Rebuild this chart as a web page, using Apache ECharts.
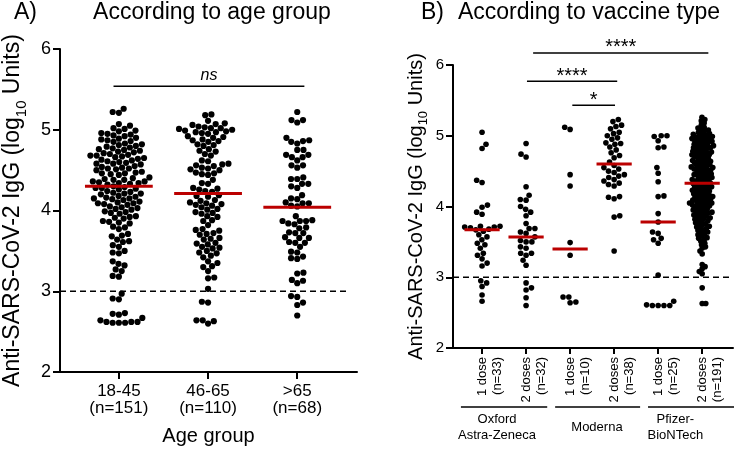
<!DOCTYPE html>
<html><head><meta charset="utf-8">
<script src="https://cdn.jsdelivr.net/npm/echarts@6/dist/echarts.min.js"></script>
<style>html,body{margin:0;padding:0;background:#fff}#c{width:734px;height:451px}</style>
</head><body><div id="c"></div>
<script>
// ---------------- DATA ----------------
const ageCategories = ['18-45', '46-65', '>65'];
const ageCounts = ['(n=151)', '(n=110)', '(n=68)'];
const age1845 = [2.61,2.61,2.61,2.62,2.62,2.62,2.64,2.67,2.71,2.72,2.73,2.90,2.91,2.97,
3.18,3.19,3.25,3.27,3.32,3.34,3.37,3.47,3.48,3.50,3.55,3.57,3.61,3.62,3.64,3.68,3.69,3.71,3.77,3.79,3.80,3.84,3.85,3.86,3.87,3.90,3.91,3.92,3.93,3.96,3.97,3.98,3.99,
4.01,4.02,4.03,4.04,4.05,4.07,4.08,4.09,4.09,4.10,4.11,4.13,4.14,4.15,4.15,4.16,4.17,4.18,4.20,4.21,4.21,4.22,4.23,4.24,4.26,4.27,4.28,4.28,4.29,4.30,
4.32,4.33,4.34,4.34,4.35,4.36,4.36,4.38,4.38,4.39,4.40,4.41,4.44,4.45,4.46,4.46,4.47,4.48,4.50,4.51,4.52,4.52,4.53,4.54,4.55,4.57,4.58,4.58,4.59,4.60,4.61,
4.62,4.63,4.64,4.65,4.66,4.67,4.68,4.68,4.69,4.70,4.71,4.72,4.73,4.74,4.75,4.76,4.77,4.78,4.79,4.80,4.81,4.82,4.83,4.85,4.86,4.87,4.88,4.89,4.90,
4.92,4.93,4.94,4.95,4.96,4.98,4.99,5.01,5.02,5.05,5.07,5.21,5.22,5.26];
const age4665 = [5.18,5.19,5.11,5.06,5.07,5.08,5.00,5.01,5.02,5.02,5.03,5.04,4.95,4.96,4.97,4.97,4.98,4.99,4.90,4.91,4.92,4.85,4.86,4.87,4.88,
4.80,4.81,4.82,4.73,4.74,4.76,4.68,4.70,4.61,4.62,4.55,4.56,4.57,4.58,4.50,4.51,4.52,4.53,4.44,4.45,4.46,4.47,4.38,4.33,4.34,4.26,4.27,4.28,4.23,4.24,
4.17,4.18,4.19,4.12,4.13,4.10,4.06,4.07,4.08,4.09,4.01,4.02,4.04,3.96,3.97,3.98,3.92,3.93,3.87,3.88,3.82,3.75,3.76,3.77,3.70,3.71,3.72,
3.64,3.65,3.66,3.58,3.59,3.60,3.53,3.54,3.55,3.47,3.48,3.50,3.44,3.42,3.35,3.37,3.30,3.31,3.25,3.16,3.17,3.03,2.86,2.87,2.60,2.63,2.64,2.64];
const ageOver65 = [2.70,2.83,2.86,2.93,2.94,3.10,3.13,3.14,3.22,3.23,3.40,3.41,3.43,3.48,3.49,3.55,3.60,3.60,3.61,3.66,3.66,3.67,3.72,3.72,3.73,
3.78,3.79,3.83,3.84,3.87,3.87,3.87,3.88,3.93,
4.05,4.06,4.09,4.09,4.10,4.14,4.15,4.19,4.28,4.30,4.33,4.33,4.39,4.39,4.41,4.53,4.56,4.56,4.62,4.66,4.66,4.69,4.69,4.75,4.75,4.83,4.85,4.86,4.87,4.90,
5.09,5.12,5.12,5.22];
const ageMedians = [4.30, 4.21, 4.04];

const vaccineDoses = ['1 dose', '2 doses', '1 dose', '2 doses', '1 dose', '2 doses'];
const vaccineCounts = ['(n=33)', '(n=32)', '(n=10)', '(n=38)', '(n=25)', '(n=191)'];
const vaccineBrands = ['Oxford\nAstra-Zeneca', 'Moderna', 'Pfizer-\nBioNTech'];
const oxford1 = [5.05,4.88,4.82,4.37,4.34,4.02,3.99,3.92,3.89,3.72,3.72,3.71,3.71,3.70,3.68,3.67,3.65,3.60,3.57,3.53,3.48,3.46,3.41,3.34,3.31,3.26,3.20,3.16,2.95,2.92,2.87,2.75,2.66];
const oxford2 = [4.09,3.92,3.76,3.69,3.62,3.50,3.31,3.17,2.92,4.89,4.74,4.28,4.16,4.00,3.87,3.69,3.52,3.43,3.34,3.24,2.82,2.71,2.60,4.70,4.10,3.96,3.64,3.57,3.50,3.41,3.34,2.85];
const moderna1 = [5.12,5.09,4.45,4.29,3.49,3.31,2.72,2.72,2.65,2.64];
const moderna2 = [5.23,5.20,5.15,5.13,5.10,5.05,5.03,5.00,4.97,4.95,4.90,4.89,4.88,4.84,4.80,4.76,4.72,4.69,4.63,
4.58,4.55,4.53,4.50,4.48,4.45,4.43,4.41,4.38,4.36,4.33,4.31,4.29,4.14,4.13,4.11,3.87,3.85,3.37];
const pfizer1 = [5.00,5.00,4.99,4.93,4.84,4.83,4.55,4.47,4.35,4.15,4.14,3.90,3.78,3.64,3.62,3.55,3.53,3.48,3.03,2.66,2.61,2.60,2.60,2.60,2.60];
const pfizer2 = [5.26,5.23,5.21,5.18,5.15,5.12,5.11,5.09,5.08,5.07,5.05,5.04,5.03,5.02,5.01,5.00,
4.99,4.99,4.98,4.97,4.96,4.96,4.95,4.94,4.93,4.92,4.92,4.91,4.90,
4.89,4.88,4.87,4.86,4.86,4.85,4.84,4.83,4.83,4.82,4.81,4.80,
4.79,4.78,4.77,4.77,4.76,4.75,4.74,4.73,4.73,4.72,4.71,4.70,
4.69,4.68,4.67,4.66,4.65,4.64,4.64,4.63,4.62,4.61,4.60,
4.59,4.58,4.57,4.57,4.56,4.55,4.54,4.53,4.53,4.52,4.51,4.50,
4.49,4.48,4.47,4.46,4.45,4.45,4.44,4.43,4.42,4.41,4.40,
4.39,4.38,4.38,4.37,4.36,4.35,4.34,4.33,4.32,4.32,4.31,4.30,
4.29,4.28,4.27,4.27,4.26,4.25,4.24,4.23,4.22,4.22,4.21,4.20,
4.19,4.18,4.17,4.16,4.16,4.15,4.14,4.13,4.12,4.12,4.11,4.10,
4.09,4.08,4.08,4.07,4.06,4.05,4.05,4.04,4.03,4.02,4.02,4.01,4.00,
3.99,3.98,3.97,3.96,3.95,3.94,3.93,3.92,3.92,3.91,3.90,
3.89,3.88,3.87,3.86,3.85,3.84,3.83,3.82,3.81,3.80,
3.79,3.77,3.76,3.75,3.74,3.72,3.71,3.70,
3.69,3.67,3.66,3.64,3.63,3.62,3.60,
3.58,3.56,3.55,3.53,3.51,3.48,3.46,3.43,3.41,3.37,3.33,
3.18,3.15,3.12,3.08,3.05,2.85,2.63,2.63];
const vaccineMedians = [3.67, 3.57, 3.40, 4.60, 3.78, 4.33];

const threshold = 3;
// significance brackets: [from x, to x, level, label]
const sigA = [[0.94, 3.08, 5.54, 'ns']];
const sigB = [[2.16, 6.14, 6.17, '****'], [2.02, 4.07, 5.77, '****'], [3.05, 4.02, 5.43, '*']];

// ---------------- LAYOUT ----------------
const FONT = "'Liberation Sans', Arial, Helvetica, sans-serif";
const gA = {left: 52, top: 49, width: 305, height: 326, xmin: 0.34, xmax: 3.67};
const gB = {left: 453, top: 65, width: 280, height: 283, xmin: 0.34, xmax: 6.70};
const RED = '#bb0000';

function swarm(values, center, pxX, pxY, D) {
  const idx = values.map((_, i) => i).sort((a, b) => values[a] - values[b]);
  const placed = [];
  const out = new Array(values.length);
  let flip = 1;
  idx.forEach(i => {
    const y = values[i] * pxY;
    const near = placed.filter(p => Math.abs(p[1] - y) < D);
    const cands = [0];
    near.forEach(p => {
      const d = Math.sqrt(D * D - (p[1] - y) * (p[1] - y));
      cands.push(p[0] + d, p[0] - d);
    });
    cands.sort((a, b) => (Math.round(Math.abs(a) * 100) - Math.round(Math.abs(b) * 100)) || (flip * (b - a)));
    const x = cands.find(c => near.every(p => (p[0] - c) * (p[0] - c) + (p[1] - y) * (p[1] - y) >= D * D - 1e-6));
    if (x !== 0) flip = -flip;
    placed.push([x, y]);
    out[i] = [center + x / pxX, values[i]];
  });
  return out;
}

const pxXA = gA.width / (gA.xmax - gA.xmin), pxYA = gA.height / 4;
const pxXB = gB.width / (gB.xmax - gB.xmin), pxYB = gB.height / 4;

const ageGroups = [age1845, age4665, ageOver65];
const vaccineGroups = [oxford1, oxford2, moderna1, moderna2, pfizer1, pfizer2];

const series = [];
ageGroups.forEach((vals, i) => {
  series.push({type: 'scatter', xAxisIndex: 0, yAxisIndex: 0, symbol: 'circle', symbolSize: 6.2,
    itemStyle: {color: '#000', opacity: 1}, silent: true, z: 2,
    data: swarm(vals, i + 1, pxXA, pxYA, 6.4)});
});
vaccineGroups.forEach((vals, i) => {
  const D = vals.length > 100 ? 3.6 : 5.8;
  series.push({type: 'scatter', xAxisIndex: 1, yAxisIndex: 1, symbol: 'circle', symbolSize: 5.6,
    itemStyle: {color: '#000', opacity: 1}, silent: true, z: 2,
    data: swarm(vals, i + 1, pxXB, pxYB, D)});
});

function medianSeries(ax, meds, hw) {
  return {type: 'custom', xAxisIndex: ax, yAxisIndex: ax, silent: true, z: 5,
    data: meds.map((m, i) => [i + 1, m]),
    renderItem: (p, api) => {
      const a = api.coord([api.value(0) - hw, api.value(1)]);
      const b = api.coord([api.value(0) + hw, api.value(1)]);
      return {type: 'line', shape: {x1: a[0], y1: a[1], x2: b[0], y2: b[1]}, style: {stroke: RED, lineWidth: 3}};
    }};
}
series.push(medianSeries(0, ageMedians, 0.38));
series.push(medianSeries(1, vaccineMedians, 0.40));

function refLine(ax, x1, x2) {
  return {type: 'custom', xAxisIndex: ax, yAxisIndex: ax, silent: true, z: 1,
    data: [[x1, threshold, x2]],
    renderItem: (p, api) => {
      const a = api.coord([api.value(0), api.value(1)]);
      const b = api.coord([api.value(2), api.value(1)]);
      return {type: 'line', shape: {x1: a[0], y1: a[1], x2: b[0], y2: b[1]}, style: {stroke: '#000', lineWidth: 1.6, lineDash: [6, 4]}};
    }};
}
series.push(refLine(0, gA.xmin, 3.57));
series.push(refLine(1, gB.xmin, gB.xmax));

function sigSeries(ax, list, fs, italic, dy) {
  return {type: 'custom', xAxisIndex: ax, yAxisIndex: ax, silent: true, z: 5,
    data: list.map(s => [s[0], s[2], s[1]]),
    renderItem: (p, api) => {
      const a = api.coord([api.value(0), api.value(1)]);
      const b = api.coord([api.value(2), api.value(1)]);
      const lab = list[p.dataIndex][3];
      return {type: 'group', children: [
        {type: 'line', shape: {x1: a[0], y1: a[1], x2: b[0], y2: b[1]}, style: {stroke: '#000', lineWidth: 1.5}},
        {type: 'text', style: {text: lab, x: (a[0] + b[0]) / 2, y: a[1] + dy, align: 'center', verticalAlign: 'bottom',
          fill: '#000', font: (italic ? 'italic ' : '') + fs + 'px ' + FONT}}
      ]};
    }};
}
series.push(sigSeries(0, sigA, 16, true, -3));
series.push(sigSeries(1, sigB, 20, false, 5));

// rotated dose / n labels under axis B (category positions 1..6)
series.push({type: 'custom', xAxisIndex: 1, yAxisIndex: 1, silent: true, z: 5,
  data: vaccineDoses.map((d, i) => [i + 1, 2]),
  renderItem: (p, api) => {
    const c = api.coord([api.value(0), api.value(1)]);
    return {type: 'text', x: c[0], y: c[1] + 9, rotation: Math.PI / 2,
      style: {text: vaccineDoses[p.dataIndex] + '\n' + vaccineCounts[p.dataIndex], x: 0, y: -7.5,
        align: 'right', verticalAlign: 'top', fill: '#000', font: '13px ' + FONT, lineHeight: 15}};
  }});

// vaccine brand brackets below axis B
const brandSpans = [[0.52, 2.48], [2.66, 4.59], [4.77, 6.73]];
const brandTextX = [1.34, 3.61, 5.39];
series.push({type: 'custom', xAxisIndex: 1, yAxisIndex: 1, silent: true, z: 5,
  data: brandSpans.map((s, i) => [s[0], 1.166, s[1], brandTextX[i]]),
  renderItem: (p, api) => {
    const a = api.coord([api.value(0), api.value(1)]);
    const b = api.coord([api.value(2), api.value(1)]);
    const t = api.coord([api.value(3), api.value(1)]);
    return {type: 'group', children: [
      {type: 'line', shape: {x1: a[0], y1: a[1], x2: b[0], y2: b[1]}, style: {stroke: '#000', lineWidth: 1.5}},
      {type: 'text', style: {text: vaccineBrands[p.dataIndex], x: t[0], y: a[1] + 20, align: 'center', verticalAlign: 'middle',
        fill: '#000', font: '13px ' + FONT, lineHeight: 16}}
    ]};
  }});

function yAxisCfg(gi, labelSize, nameSize, subSize, gap, margin) {
  return {gridIndex: gi, type: 'value', min: 2, max: 6, interval: 1,
    axisLine: {show: true, onZero: false, lineStyle: {color: '#000', width: 2}},
    axisTick: {show: true, length: 7, lineStyle: {color: '#000', width: 2}},
    axisLabel: {color: '#000', fontSize: labelSize, fontFamily: FONT, margin: margin},
    splitLine: {show: false},
    name: '{a|Anti-SARS-CoV-2 IgG (log}{s|10}{a| Units)}',
    nameLocation: 'middle', nameRotate: 90, nameGap: gap,
    nameTextStyle: {fontSize: nameSize, fontFamily: FONT, color: '#000',
      rich: {a: {fontSize: nameSize, fontFamily: FONT, color: '#000', verticalAlign: 'bottom', padding: [0, 0, Math.round(nameSize * 0.22), 0]},
             s: {fontSize: subSize, fontFamily: FONT, color: '#000', verticalAlign: 'bottom'}}}
  };
}

const option = {
  animation: false,
  backgroundColor: '#fff',
  grid: [
    {left: gA.left, top: gA.top, width: gA.width, height: gA.height},
    {left: gB.left, top: gB.top, width: gB.width, height: gB.height}
  ],
  xAxis: [
    {gridIndex: 0, type: 'value', min: gA.xmin, max: gA.xmax,
      axisLine: {show: true, onZero: false, lineStyle: {color: '#000', width: 2}},
      axisTick: {show: true, customValues: [1, 2, 3], length: 7, lineStyle: {color: '#000', width: 2}},
      axisLabel: {customValues: [1, 2, 3], showMinLabel: true, showMaxLabel: true,
        formatter: v => ageCategories[Math.round(v) - 1] + '\n' + ageCounts[Math.round(v) - 1],
        color: '#000', fontSize: 17, lineHeight: 17, fontFamily: FONT, margin: 11},
      splitLine: {show: false},
      name: 'Age group', nameLocation: 'middle', nameGap: 54,
      nameTextStyle: {fontSize: 20, fontFamily: FONT, color: '#000'}},
    {gridIndex: 1, type: 'value', min: gB.xmin, max: gB.xmax,
      axisLine: {show: true, onZero: false, lineStyle: {color: '#000', width: 2}},
      axisTick: {show: true, customValues: [1, 2, 3, 4, 5, 6], length: 6, lineStyle: {color: '#000', width: 2}},
      axisLabel: {show: false},
      splitLine: {show: false}}
  ],
  yAxis: [
    yAxisCfg(0, 18, 23, 15, 31, 9),
    yAxisCfg(1, 15, 20, 13, 23, 9)
  ],
  graphic: [
    {type: 'text', x: 14, y: 13, style: {text: 'A)', font: '23px ' + FONT, fill: '#000', align: 'left', verticalAlign: 'middle'}},
    {type: 'text', x: 212, y: 13, style: {text: 'According to age group', font: '23px ' + FONT, fill: '#000', align: 'center', verticalAlign: 'middle'}},
    {type: 'text', x: 421, y: 13, style: {text: 'B)', font: '23px ' + FONT, fill: '#000', align: 'left', verticalAlign: 'middle'}},
    {type: 'text', x: 589, y: 13, style: {text: 'According to vaccine type', font: '23px ' + FONT, fill: '#000', align: 'center', verticalAlign: 'middle'}}
  ],
  series: series
};

const chart = echarts.init(document.getElementById('c'), null, {renderer: 'canvas'});
chart.setOption(option);
</script>
</body></html>
